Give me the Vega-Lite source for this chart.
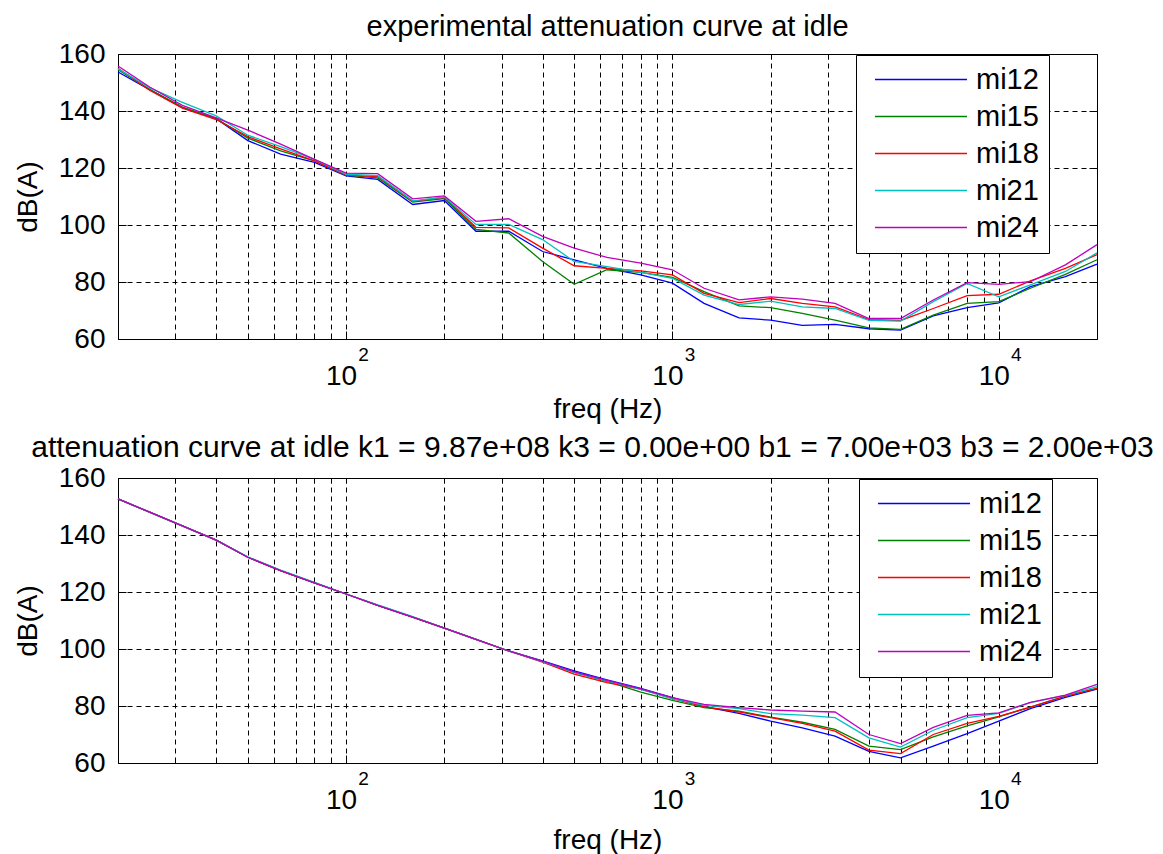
{
  "$schema": "https://vega.github.io/schema/vega-lite/v6.json",
  "padding": {"left": 13, "top": 12, "right": 0, "bottom": 0},
  "background": "white",
  "config": {
    "font": "Liberation Sans",
    "view": {"stroke": "#000", "strokeWidth": 1},
    "axis": {
      "labelFont": "Liberation Sans", "labelFontSize": 28, "labelColor": "#000",
      "titleFont": "Liberation Sans", "titleFontSize": 28, "titleFontWeight": "normal", "titleColor": "#000",
      "domain": false, "gridColor": "#000", "gridDash": [5, 4], "gridOpacity": 1, "gridWidth": 1,
      "tickColor": "#000", "tickWidth": 1, "labelFlush": false, "labelOverlap": false
    },
    "title": {"font": "Liberation Sans", "fontSize": 29, "fontWeight": "normal", "color": "#000", "anchor": "middle"},
    "legend": {
      "title": null, "orient": "none", "symbolType": "M-0.478,0H7.522", "symbolSize": 529, "symbolStrokeWidth": 1.5,
      "labelFont": "Liberation Sans", "labelFontSize": 29, "labelColor": "#000", "labelOffset": 81,
      "strokeColor": "#000", "fillColor": "#fff", "padding": 10, "rowPadding": 7
    }
  },
  "datasets": {
    "top": [
      {"freq":20,"series":"mi12","dB":153.7},{"freq":20,"series":"mi15","dB":154.5},{"freq":20,"series":"mi18","dB":155.0},{"freq":20,"series":"mi21","dB":154.8},{"freq":20,"series":"mi24","dB":155.8},
      {"freq":25,"series":"mi12","dB":147.5},{"freq":25,"series":"mi15","dB":147.6},{"freq":25,"series":"mi18","dB":147.3},{"freq":25,"series":"mi21","dB":148.2},{"freq":25,"series":"mi24","dB":148.4},
      {"freq":31.5,"series":"mi12","dB":141.2},{"freq":31.5,"series":"mi15","dB":141.4},{"freq":31.5,"series":"mi18","dB":141.0},{"freq":31.5,"series":"mi21","dB":143.0},{"freq":31.5,"series":"mi24","dB":142.0},
      {"freq":40,"series":"mi12","dB":137.3},{"freq":40,"series":"mi15","dB":137.3},{"freq":40,"series":"mi18","dB":137.0},{"freq":40,"series":"mi21","dB":138.3},{"freq":40,"series":"mi24","dB":137.6},
      {"freq":50,"series":"mi12","dB":129.6},{"freq":50,"series":"mi15","dB":130.5},{"freq":50,"series":"mi18","dB":131.0},{"freq":50,"series":"mi21","dB":131.5},{"freq":50,"series":"mi24","dB":133.3},
      {"freq":63,"series":"mi12","dB":124.9},{"freq":63,"series":"mi15","dB":126.0},{"freq":63,"series":"mi18","dB":126.7},{"freq":63,"series":"mi21","dB":127.5},{"freq":63,"series":"mi24","dB":128.4},
      {"freq":80,"series":"mi12","dB":122.0},{"freq":80,"series":"mi15","dB":122.5},{"freq":80,"series":"mi18","dB":122.5},{"freq":80,"series":"mi21","dB":123.0},{"freq":80,"series":"mi24","dB":123.0},
      {"freq":100,"series":"mi12","dB":117.2},{"freq":100,"series":"mi15","dB":117.5},{"freq":100,"series":"mi18","dB":117.5},{"freq":100,"series":"mi21","dB":117.8},{"freq":100,"series":"mi24","dB":118.2},
      {"freq":125,"series":"mi12","dB":116.0},{"freq":125,"series":"mi15","dB":116.5},{"freq":125,"series":"mi18","dB":117.0},{"freq":125,"series":"mi21","dB":117.3},{"freq":125,"series":"mi24","dB":118.0},
      {"freq":160,"series":"mi12","dB":107.2},{"freq":160,"series":"mi15","dB":108.0},{"freq":160,"series":"mi18","dB":108.3},{"freq":160,"series":"mi21","dB":108.5},{"freq":160,"series":"mi24","dB":109.2},
      {"freq":200,"series":"mi12","dB":108.6},{"freq":200,"series":"mi15","dB":109.3},{"freq":200,"series":"mi18","dB":109.7},{"freq":200,"series":"mi21","dB":109.8},{"freq":200,"series":"mi24","dB":110.2},
      {"freq":250,"series":"mi12","dB":97.8},{"freq":250,"series":"mi15","dB":98.5},{"freq":250,"series":"mi18","dB":99.2},{"freq":250,"series":"mi21","dB":100.2},{"freq":250,"series":"mi24","dB":101.3},
      {"freq":315,"series":"mi12","dB":97.8},{"freq":315,"series":"mi15","dB":97.2},{"freq":315,"series":"mi18","dB":99.0},{"freq":315,"series":"mi21","dB":100.2},{"freq":315,"series":"mi24","dB":102.2},
      {"freq":400,"series":"mi12","dB":90.7},{"freq":400,"series":"mi15","dB":87.2},{"freq":400,"series":"mi18","dB":91.9},{"freq":400,"series":"mi21","dB":94.9},{"freq":400,"series":"mi24","dB":96.0},
      {"freq":500,"series":"mi12","dB":87.8},{"freq":500,"series":"mi15","dB":79.2},{"freq":500,"series":"mi18","dB":85.7},{"freq":500,"series":"mi21","dB":87.2},{"freq":500,"series":"mi24","dB":91.9},
      {"freq":630,"series":"mi12","dB":84.8},{"freq":630,"series":"mi15","dB":84.3},{"freq":630,"series":"mi18","dB":84.8},{"freq":630,"series":"mi21","dB":85.4},{"freq":630,"series":"mi24","dB":88.6},
      {"freq":800,"series":"mi12","dB":82.5},{"freq":800,"series":"mi15","dB":83.4},{"freq":800,"series":"mi18","dB":83.9},{"freq":800,"series":"mi21","dB":83.4},{"freq":800,"series":"mi24","dB":86.6},
      {"freq":1000,"series":"mi12","dB":79.6},{"freq":1000,"series":"mi15","dB":81.6},{"freq":1000,"series":"mi18","dB":82.5},{"freq":1000,"series":"mi21","dB":81.3},{"freq":1000,"series":"mi24","dB":84.3},
      {"freq":1250,"series":"mi12","dB":72.5},{"freq":1250,"series":"mi15","dB":76.6},{"freq":1250,"series":"mi18","dB":76.0},{"freq":1250,"series":"mi21","dB":75.4},{"freq":1250,"series":"mi24","dB":77.8},
      {"freq":1600,"series":"mi12","dB":67.4},{"freq":1600,"series":"mi15","dB":71.6},{"freq":1600,"series":"mi18","dB":72.8},{"freq":1600,"series":"mi21","dB":72.1},{"freq":1600,"series":"mi24","dB":73.7},
      {"freq":2000,"series":"mi12","dB":66.6},{"freq":2000,"series":"mi15","dB":71.0},{"freq":2000,"series":"mi18","dB":74.2},{"freq":2000,"series":"mi21","dB":73.3},{"freq":2000,"series":"mi24","dB":74.8},
      {"freq":2500,"series":"mi12","dB":64.8},{"freq":2500,"series":"mi15","dB":69.0},{"freq":2500,"series":"mi18","dB":72.5},{"freq":2500,"series":"mi21","dB":71.3},{"freq":2500,"series":"mi24","dB":74.0},
      {"freq":3150,"series":"mi12","dB":65.1},{"freq":3150,"series":"mi15","dB":66.6},{"freq":3150,"series":"mi18","dB":71.3},{"freq":3150,"series":"mi21","dB":70.7},{"freq":3150,"series":"mi24","dB":72.5},
      {"freq":4000,"series":"mi12","dB":63.6},{"freq":4000,"series":"mi15","dB":63.9},{"freq":4000,"series":"mi18","dB":66.8},{"freq":4000,"series":"mi21","dB":66.5},{"freq":4000,"series":"mi24","dB":67.2},
      {"freq":5000,"series":"mi12","dB":63.1},{"freq":5000,"series":"mi15","dB":63.4},{"freq":5000,"series":"mi18","dB":66.5},{"freq":5000,"series":"mi21","dB":66.3},{"freq":5000,"series":"mi24","dB":67.2},
      {"freq":6300,"series":"mi12","dB":68.1},{"freq":6300,"series":"mi15","dB":68.4},{"freq":6300,"series":"mi18","dB":70.7},{"freq":6300,"series":"mi21","dB":73.1},{"freq":6300,"series":"mi24","dB":73.7},
      {"freq":8000,"series":"mi12","dB":71.0},{"freq":8000,"series":"mi15","dB":72.5},{"freq":8000,"series":"mi18","dB":75.2},{"freq":8000,"series":"mi21","dB":79.5},{"freq":8000,"series":"mi24","dB":79.8},
      {"freq":10000,"series":"mi12","dB":72.7},{"freq":10000,"series":"mi15","dB":73.1},{"freq":10000,"series":"mi18","dB":75.7},{"freq":10000,"series":"mi21","dB":74.8},{"freq":10000,"series":"mi24","dB":79.2},
      {"freq":12500,"series":"mi12","dB":78.4},{"freq":12500,"series":"mi15","dB":77.8},{"freq":12500,"series":"mi18","dB":80.4},{"freq":12500,"series":"mi21","dB":79.0},{"freq":12500,"series":"mi24","dB":80.1},
      {"freq":16000,"series":"mi12","dB":81.9},{"freq":16000,"series":"mi15","dB":82.7},{"freq":16000,"series":"mi18","dB":84.8},{"freq":16000,"series":"mi21","dB":83.7},{"freq":16000,"series":"mi24","dB":86.0},
      {"freq":20000,"series":"mi12","dB":86.3},{"freq":20000,"series":"mi15","dB":87.8},{"freq":20000,"series":"mi18","dB":89.6},{"freq":20000,"series":"mi21","dB":90.2},{"freq":20000,"series":"mi24","dB":93.1}
    ],
    "bottom": [
      {"freq":20,"series":"mi12","dB":152.7},{"freq":20,"series":"mi15","dB":152.7},{"freq":20,"series":"mi18","dB":152.7},{"freq":20,"series":"mi21","dB":152.7},{"freq":20,"series":"mi24","dB":152.7},
      {"freq":25,"series":"mi12","dB":148.0},{"freq":25,"series":"mi15","dB":148.0},{"freq":25,"series":"mi18","dB":148.0},{"freq":25,"series":"mi21","dB":148.0},{"freq":25,"series":"mi24","dB":148.0},
      {"freq":31.5,"series":"mi12","dB":143.2},{"freq":31.5,"series":"mi15","dB":143.2},{"freq":31.5,"series":"mi18","dB":143.2},{"freq":31.5,"series":"mi21","dB":143.2},{"freq":31.5,"series":"mi24","dB":143.2},
      {"freq":40,"series":"mi12","dB":138.2},{"freq":40,"series":"mi15","dB":138.2},{"freq":40,"series":"mi18","dB":138.2},{"freq":40,"series":"mi21","dB":138.2},{"freq":40,"series":"mi24","dB":138.2},
      {"freq":50,"series":"mi12","dB":132.2},{"freq":50,"series":"mi15","dB":132.2},{"freq":50,"series":"mi18","dB":132.2},{"freq":50,"series":"mi21","dB":132.3},{"freq":50,"series":"mi24","dB":132.2},
      {"freq":63,"series":"mi12","dB":127.5},{"freq":63,"series":"mi15","dB":127.5},{"freq":63,"series":"mi18","dB":127.5},{"freq":63,"series":"mi21","dB":127.7},{"freq":63,"series":"mi24","dB":127.5},
      {"freq":80,"series":"mi12","dB":123.2},{"freq":80,"series":"mi15","dB":123.2},{"freq":80,"series":"mi18","dB":123.2},{"freq":80,"series":"mi21","dB":123.4},{"freq":80,"series":"mi24","dB":123.2},
      {"freq":100,"series":"mi12","dB":119.3},{"freq":100,"series":"mi15","dB":119.3},{"freq":100,"series":"mi18","dB":119.3},{"freq":100,"series":"mi21","dB":119.3},{"freq":100,"series":"mi24","dB":119.3},
      {"freq":125,"series":"mi12","dB":115.3},{"freq":125,"series":"mi15","dB":115.3},{"freq":125,"series":"mi18","dB":115.3},{"freq":125,"series":"mi21","dB":115.5},{"freq":125,"series":"mi24","dB":115.3},
      {"freq":160,"series":"mi12","dB":111.2},{"freq":160,"series":"mi15","dB":111.2},{"freq":160,"series":"mi18","dB":111.2},{"freq":160,"series":"mi21","dB":111.4},{"freq":160,"series":"mi24","dB":111.2},
      {"freq":200,"series":"mi12","dB":107.3},{"freq":200,"series":"mi15","dB":107.3},{"freq":200,"series":"mi18","dB":107.3},{"freq":200,"series":"mi21","dB":107.3},{"freq":200,"series":"mi24","dB":107.3},
      {"freq":250,"series":"mi12","dB":103.4},{"freq":250,"series":"mi15","dB":103.4},{"freq":250,"series":"mi18","dB":103.4},{"freq":250,"series":"mi21","dB":103.4},{"freq":250,"series":"mi24","dB":103.4},
      {"freq":315,"series":"mi12","dB":99.3},{"freq":315,"series":"mi15","dB":99.3},{"freq":315,"series":"mi18","dB":99.3},{"freq":315,"series":"mi21","dB":99.3},{"freq":315,"series":"mi24","dB":99.3},
      {"freq":400,"series":"mi12","dB":95.8},{"freq":400,"series":"mi15","dB":95.6},{"freq":400,"series":"mi18","dB":95.4},{"freq":400,"series":"mi21","dB":95.6},{"freq":400,"series":"mi24","dB":95.7},
      {"freq":500,"series":"mi12","dB":92.3},{"freq":500,"series":"mi15","dB":91.8},{"freq":500,"series":"mi18","dB":91.2},{"freq":500,"series":"mi21","dB":91.8},{"freq":500,"series":"mi24","dB":92.0},
      {"freq":630,"series":"mi12","dB":89.2},{"freq":630,"series":"mi15","dB":88.6},{"freq":630,"series":"mi18","dB":88.2},{"freq":630,"series":"mi21","dB":88.8},{"freq":630,"series":"mi24","dB":89.0},
      {"freq":800,"series":"mi12","dB":86.2},{"freq":800,"series":"mi15","dB":84.9},{"freq":800,"series":"mi18","dB":85.9},{"freq":800,"series":"mi21","dB":85.8},{"freq":800,"series":"mi24","dB":86.0},
      {"freq":1000,"series":"mi12","dB":82.9},{"freq":1000,"series":"mi15","dB":82.0},{"freq":1000,"series":"mi18","dB":82.6},{"freq":1000,"series":"mi21","dB":82.6},{"freq":1000,"series":"mi24","dB":82.9},
      {"freq":1250,"series":"mi12","dB":79.8},{"freq":1250,"series":"mi15","dB":79.4},{"freq":1250,"series":"mi18","dB":79.8},{"freq":1250,"series":"mi21","dB":80.2},{"freq":1250,"series":"mi24","dB":80.6},
      {"freq":1600,"series":"mi12","dB":77.4},{"freq":1600,"series":"mi15","dB":78.2},{"freq":1600,"series":"mi18","dB":77.9},{"freq":1600,"series":"mi21","dB":79.1},{"freq":1600,"series":"mi24","dB":79.4},
      {"freq":2000,"series":"mi12","dB":74.7},{"freq":2000,"series":"mi15","dB":76.1},{"freq":2000,"series":"mi18","dB":75.9},{"freq":2000,"series":"mi21","dB":77.3},{"freq":2000,"series":"mi24","dB":78.6},
      {"freq":2500,"series":"mi12","dB":72.3},{"freq":2500,"series":"mi15","dB":74.3},{"freq":2500,"series":"mi18","dB":73.9},{"freq":2500,"series":"mi21","dB":76.8},{"freq":2500,"series":"mi24","dB":78.2},
      {"freq":3150,"series":"mi12","dB":69.4},{"freq":3150,"series":"mi15","dB":71.8},{"freq":3150,"series":"mi18","dB":71.2},{"freq":3150,"series":"mi21","dB":75.9},{"freq":3150,"series":"mi24","dB":77.9},
      {"freq":4000,"series":"mi12","dB":64.1},{"freq":4000,"series":"mi15","dB":65.9},{"freq":4000,"series":"mi18","dB":64.5},{"freq":4000,"series":"mi21","dB":68.8},{"freq":4000,"series":"mi24","dB":70.0},
      {"freq":5000,"series":"mi12","dB":61.8},{"freq":5000,"series":"mi15","dB":64.7},{"freq":5000,"series":"mi18","dB":63.3},{"freq":5000,"series":"mi21","dB":65.6},{"freq":5000,"series":"mi24","dB":66.8},
      {"freq":6300,"series":"mi12","dB":65.9},{"freq":6300,"series":"mi15","dB":69.2},{"freq":6300,"series":"mi18","dB":70.0},{"freq":6300,"series":"mi21","dB":71.5},{"freq":6300,"series":"mi24","dB":72.5},
      {"freq":8000,"series":"mi12","dB":70.3},{"freq":8000,"series":"mi15","dB":73.0},{"freq":8000,"series":"mi18","dB":73.9},{"freq":8000,"series":"mi21","dB":75.9},{"freq":8000,"series":"mi24","dB":76.7},
      {"freq":10000,"series":"mi12","dB":74.7},{"freq":10000,"series":"mi15","dB":76.2},{"freq":10000,"series":"mi18","dB":76.4},{"freq":10000,"series":"mi21","dB":77.4},{"freq":10000,"series":"mi24","dB":77.6},
      {"freq":12500,"series":"mi12","dB":79.1},{"freq":12500,"series":"mi15","dB":79.6},{"freq":12500,"series":"mi18","dB":79.6},{"freq":12500,"series":"mi21","dB":81.2},{"freq":12500,"series":"mi24","dB":81.3},
      {"freq":16000,"series":"mi12","dB":83.0},{"freq":16000,"series":"mi15","dB":83.5},{"freq":16000,"series":"mi18","dB":83.5},{"freq":16000,"series":"mi21","dB":83.7},{"freq":16000,"series":"mi24","dB":83.8},
      {"freq":20000,"series":"mi12","dB":85.9},{"freq":20000,"series":"mi15","dB":86.2},{"freq":20000,"series":"mi18","dB":86.2},{"freq":20000,"series":"mi21","dB":86.8},{"freq":20000,"series":"mi24","dB":87.6}
    ]
  },
  "spacing": 139,
  "bounds": "flush",
  "resolve": {"scale": {"color": "independent"}, "legend": {"color": "independent"}},
  "vconcat": [
    {
      "width": 979, "height": 285,
      "title": {"text": "experimental attenuation curve at idle", "offset": -2},
      "data": {"name": "top"},
      "resolve": {"axis": {"x": "independent", "y": "independent"}},
      "layer": [
        {
          "mark": {"type": "line", "strokeWidth": 1.3},
          "encoding": {
            "x": {"field": "freq", "type": "quantitative", "scale": {"type": "log", "domain": [20, 20000], "nice": false},
              "axis": {"orient": "bottom", "values": [20,30,40,50,60,70,80,90,100,200,300,400,500,600,700,800,900,1000,2000,3000,4000,5000,6000,7000,8000,9000,10000,20000],
                "grid": true, "ticks": false, "labelExpr": "datum.value == 100 || datum.value == 1000 || datum.value == 10000 ? '10' : ''",
                "labelPadding": 23, "labelOffset": -5, "title": "freq (Hz)", "titlePadding": 5}},
            "y": {"field": "dB", "type": "quantitative", "scale": {"domain": [60, 160], "nice": false, "zero": false},
              "axis": {"orient": "left", "values": [60,80,100,120,140,160], "grid": true, "ticks": false, "labelPadding": 13, "title": "dB(A)", "titlePadding": 16}},
            "color": {"field": "series", "type": "nominal",
              "scale": {"domain": ["mi12","mi15","mi18","mi21","mi24"], "range": ["#0000FF","#008000","#FF0000","#00BFBF","#BF00BF"]},
              "legend": {"legendX": 738, "legendY": 1,
                "encode": {"symbols": {"update": {"stroke": {"signal": "datum.value == 'mi12' ? '#0000FF' : datum.value == 'mi15' ? '#008000' : datum.value == 'mi18' ? '#FF0000' : datum.value == 'mi21' ? '#00BFBF' : '#BF00BF'"}, "opacity": {"value": 1}, "strokeOpacity": {"value": 1}}}}}}
          }
        },
        {
          "mark": {"type": "line", "opacity": 0},
          "encoding": {
            "x": {"field": "freq", "type": "quantitative", "scale": {"type": "log", "domain": [20, 20000], "nice": false},
              "axis": {"orient": "bottom", "values": [100,1000,10000], "grid": false, "ticks": true, "tickSize": -8,
                "labelExpr": "datum.value == 100 ? '2' : datum.value == 1000 ? '3' : '4'", "labelFontSize": 19, "labelPadding": 14, "labelOffset": 17, "title": null}},
            "y": {"field": "dB", "type": "quantitative", "axis": {"orient": "right", "values": [60,80,100,120,140,160], "grid": false, "labels": false, "tickSize": -8, "title": null}}
          }
        },
        {
          "mark": {"type": "line", "opacity": 0},
          "encoding": {
            "x": {"field": "freq", "type": "quantitative", "scale": {"type": "log", "domain": [20, 20000], "nice": false},
              "axis": {"orient": "top", "values": [20,30,40,50,60,70,80,90,100,200,300,400,500,600,700,800,900,1000,2000,3000,4000,5000,6000,7000,8000,9000,10000,20000], "grid": false, "labels": false, "tickSize": -5, "title": null}},
            "y": {"field": "dB", "type": "quantitative", "axis": {"orient": "left", "values": [60,80,100,120,140,160], "grid": false, "labels": false, "tickSize": -8, "title": null}}
          }
        },
        {
          "mark": {"type": "line", "opacity": 0},
          "encoding": {
            "x": {"field": "freq", "type": "quantitative", "scale": {"type": "log", "domain": [20, 20000], "nice": false},
              "axis": {"orient": "bottom", "values": [20,30,40,50,60,70,80,90,200,300,400,500,600,700,800,900,2000,3000,4000,5000,6000,7000,8000,9000,20000], "grid": false, "labels": false, "tickSize": -5, "title": null}},
            "y": {"field": "dB", "type": "quantitative", "axis": null}
          }
        }
      ]
    },
    {
      "width": 979, "height": 285,
      "title": {"text": "attenuation curve at idle k1 = 9.87e+08 k3 = 0.00e+00 b1 = 7.00e+03 b3 = 2.00e+03", "offset": 1, "dx": -15, "fontSize": 30},
      "data": {"name": "bottom"},
      "resolve": {"axis": {"x": "independent", "y": "independent"}},
      "layer": [
        {
          "mark": {"type": "line", "strokeWidth": 1.3},
          "encoding": {
            "x": {"field": "freq", "type": "quantitative", "scale": {"type": "log", "domain": [20, 20000], "nice": false},
              "axis": {"orient": "bottom", "values": [20,30,40,50,60,70,80,90,100,200,300,400,500,600,700,800,900,1000,2000,3000,4000,5000,6000,7000,8000,9000,10000,20000],
                "grid": true, "ticks": false, "labelExpr": "datum.value == 100 || datum.value == 1000 || datum.value == 10000 ? '10' : ''",
                "labelPadding": 23, "labelOffset": -5, "title": "freq (Hz)", "titlePadding": 12}},
            "y": {"field": "dB", "type": "quantitative", "scale": {"domain": [60, 160], "nice": false, "zero": false},
              "axis": {"orient": "left", "values": [60,80,100,120,140,160], "grid": true, "ticks": false, "labelPadding": 13, "title": "dB(A)", "titlePadding": 16}},
            "color": {"field": "series", "type": "nominal",
              "scale": {"domain": ["mi12","mi15","mi18","mi21","mi24"], "range": ["#0000FF","#008000","#FF0000","#00BFBF","#BF00BF"]},
              "legend": {"legendX": 741, "legendY": 1,
                "encode": {"symbols": {"update": {"stroke": {"signal": "datum.value == 'mi12' ? '#0000FF' : datum.value == 'mi15' ? '#008000' : datum.value == 'mi18' ? '#FF0000' : datum.value == 'mi21' ? '#00BFBF' : '#BF00BF'"}, "opacity": {"value": 1}, "strokeOpacity": {"value": 1}}}}}}
          }
        },
        {
          "mark": {"type": "line", "opacity": 0},
          "encoding": {
            "x": {"field": "freq", "type": "quantitative", "scale": {"type": "log", "domain": [20, 20000], "nice": false},
              "axis": {"orient": "bottom", "values": [100,1000,10000], "grid": false, "ticks": true, "tickSize": -8,
                "labelExpr": "datum.value == 100 ? '2' : datum.value == 1000 ? '3' : '4'", "labelFontSize": 19, "labelPadding": 14, "labelOffset": 17, "title": null}},
            "y": {"field": "dB", "type": "quantitative", "axis": {"orient": "right", "values": [60,80,100,120,140,160], "grid": false, "labels": false, "tickSize": -8, "title": null}}
          }
        },
        {
          "mark": {"type": "line", "opacity": 0},
          "encoding": {
            "x": {"field": "freq", "type": "quantitative", "scale": {"type": "log", "domain": [20, 20000], "nice": false},
              "axis": {"orient": "top", "values": [20,30,40,50,60,70,80,90,100,200,300,400,500,600,700,800,900,1000,2000,3000,4000,5000,6000,7000,8000,9000,10000,20000], "grid": false, "labels": false, "tickSize": -5, "title": null}},
            "y": {"field": "dB", "type": "quantitative", "axis": {"orient": "left", "values": [60,80,100,120,140,160], "grid": false, "labels": false, "tickSize": -8, "title": null}}
          }
        },
        {
          "mark": {"type": "line", "opacity": 0},
          "encoding": {
            "x": {"field": "freq", "type": "quantitative", "scale": {"type": "log", "domain": [20, 20000], "nice": false},
              "axis": {"orient": "bottom", "values": [20,30,40,50,60,70,80,90,200,300,400,500,600,700,800,900,2000,3000,4000,5000,6000,7000,8000,9000,20000], "grid": false, "labels": false, "tickSize": -5, "title": null}},
            "y": {"field": "dB", "type": "quantitative", "axis": null}
          }
        }
      ]
    }
  ]
}
